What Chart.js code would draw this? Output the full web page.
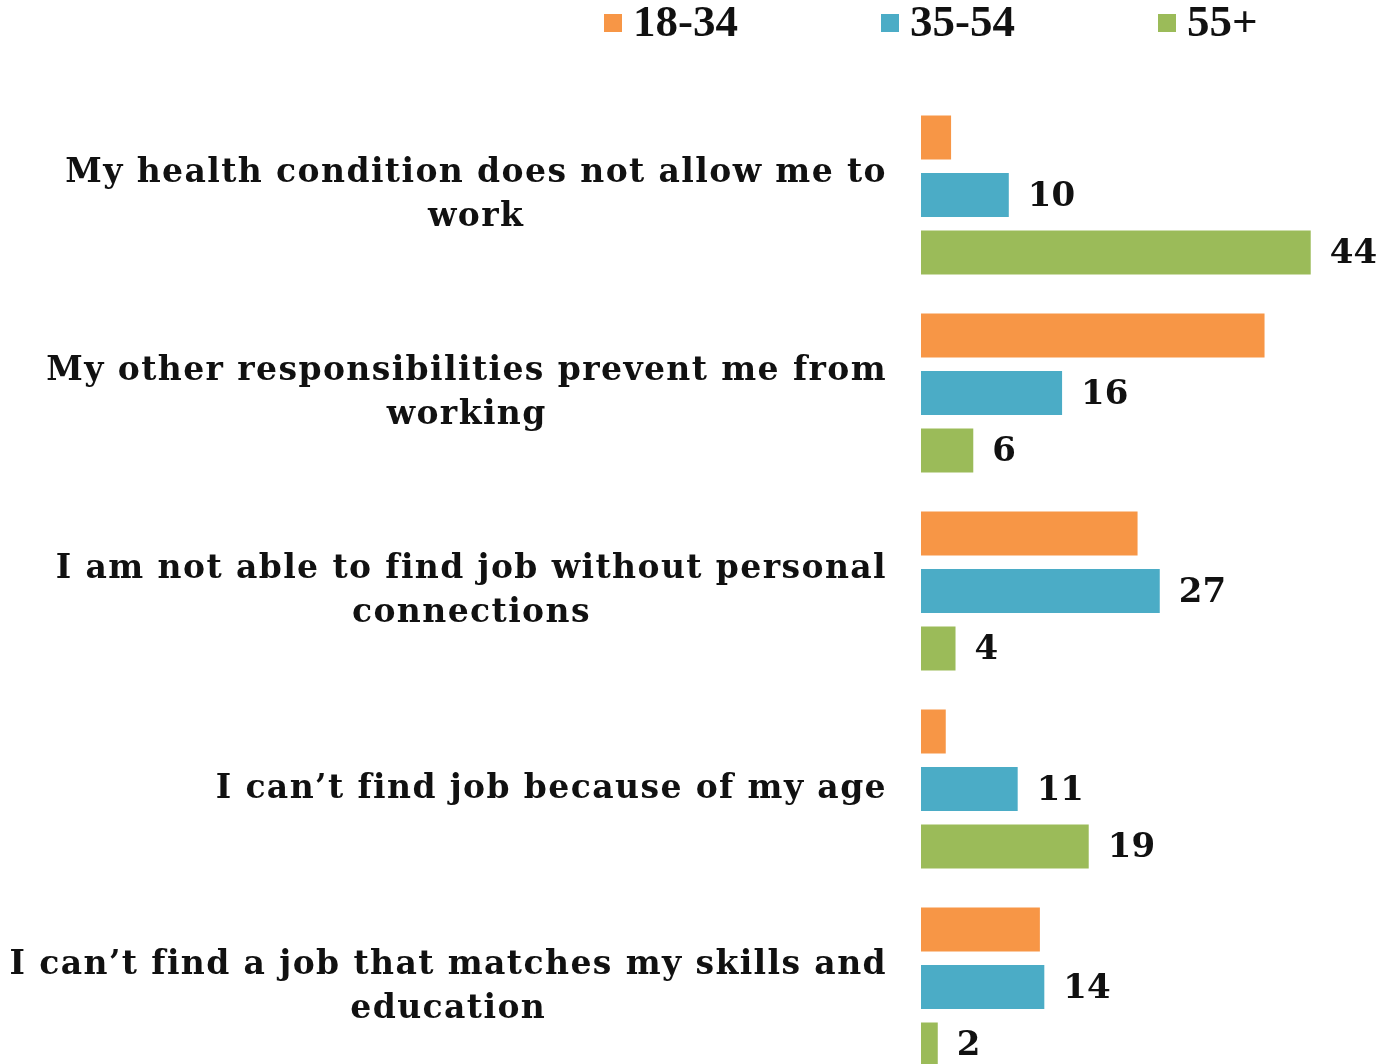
<!DOCTYPE html>
<html>
<head>
<meta charset="utf-8">
<title>Reasons for not working by age group</title>
<script src="https://cdn.jsdelivr.net/npm/chart.js@4.4.1/dist/chart.umd.min.js"></script>
<style>
  html, body { margin: 0; padding: 0; background: #fff; overflow: hidden; }
  #wrap { width: 1380px; height: 1086px; }
</style>
</head>
<body>
<div id="wrap"><canvas id="chart" width="1380" height="1086"></canvas></div>
<script>
// categories (already wrapped the way the original wraps them)
const categories = [
  ["My health condition does not allow me to", "work"],
  ["My other responsibilities prevent me from", "working"],
  ["I am not able to find job without personal", "connections"],
  ["I can’t find job because of my age"],
  ["I can’t find a job that matches my skills and", "education"]
];

const seriesNames = ["18-34", "35-54", "55+"];

// values (orange has no printed labels -> estimated)
const age18to34 = [3.5, 38.8, 24.5, 2.9, 13.5];
const age35to54 = [10, 16, 27, 11, 14];
const age55plus = [44, 6, 4, 19, 2];

const colors = ["#F79646", "#4BACC6", "#9BBB59"];

// which series get value labels at the bar end
const showValues = [false, true, true];

// draws category labels, value labels and the legend
const labelsPlugin = {
  id: "labelsPlugin",
  afterDatasetsDraw(chart) {
    const ctx = chart.ctx;
    const yScale = chart.scales.y;

    ctx.save();
    ctx.fillStyle = "#111";

    // category labels: block right aligned at axis, lines centered inside block
    ctx.font = "bold 33px 'DejaVu Serif'";
    ctx.letterSpacing = "1.4px";
    ctx.textBaseline = "middle";
    ctx.textAlign = "center";
    const lineH = 44;
    const rightEdge = chart.chartArea.left - 34;
    categories.forEach((lines, i) => {
      const cy = yScale.getPixelForValue(i);
      const widest = Math.max(...lines.map(l => ctx.measureText(l).width));
      const cx = rightEdge - widest / 2;
      const y0 = cy - (lines.length - 1) * lineH / 2;
      lines.forEach((l, k) => ctx.fillText(l, cx, y0 + k * lineH));
    });

    // value labels
    ctx.font = "bold 34px 'DejaVu Serif'";
    ctx.letterSpacing = "0px";
    ctx.textAlign = "left";
    chart.data.datasets.forEach((ds, di) => {
      if (!showValues[di]) return;
      const meta = chart.getDatasetMeta(di);
      meta.data.forEach((bar, i) => {
        ctx.fillText(String(ds.data[i]), bar.x + 18, bar.y + 2);
      });
    });

    // legend
    ctx.font = "bold 45px 'Liberation Serif'";
    ctx.textBaseline = "middle";
    chart.data.datasets.forEach((ds, di) => {
      const x = 604 + di * 277;
      ctx.fillStyle = ds.backgroundColor;
      ctx.fillRect(x, 14, 18, 18);
      ctx.fillStyle = "#111";
      ctx.fillText(ds.label, x + 29, 24);
    });
    ctx.restore();
  }
};

const ctx = document.getElementById("chart").getContext("2d");
new Chart(ctx, {
  type: "bar",
  data: {
    labels: categories,
    datasets: [
      { label: seriesNames[0], data: age18to34, backgroundColor: colors[0] },
      { label: seriesNames[1], data: age35to54, backgroundColor: colors[1] },
      { label: seriesNames[2], data: age55plus, backgroundColor: colors[2] }
    ]
  },
  options: {
    indexAxis: "y",
    responsive: false,
    animation: false,
    datasets: {
      bar: {
        categoryPercentage: 0.871,
        barPercentage: 0.8,
        borderWidth: 1,
        borderColor: "rgba(255,255,255,0.6)",
        clip: false
      }
    },
    layout: {
      padding: { left: 921, right: 15, top: 96, bottom: 0 }
    },
    scales: {
      x: { display: false, min: 0, max: 50 },
      y: { display: false }
    },
    plugins: {
      legend: { display: false },
      tooltip: { enabled: false }
    }
  },
  plugins: [labelsPlugin]
});
</script>
</body>
</html>
